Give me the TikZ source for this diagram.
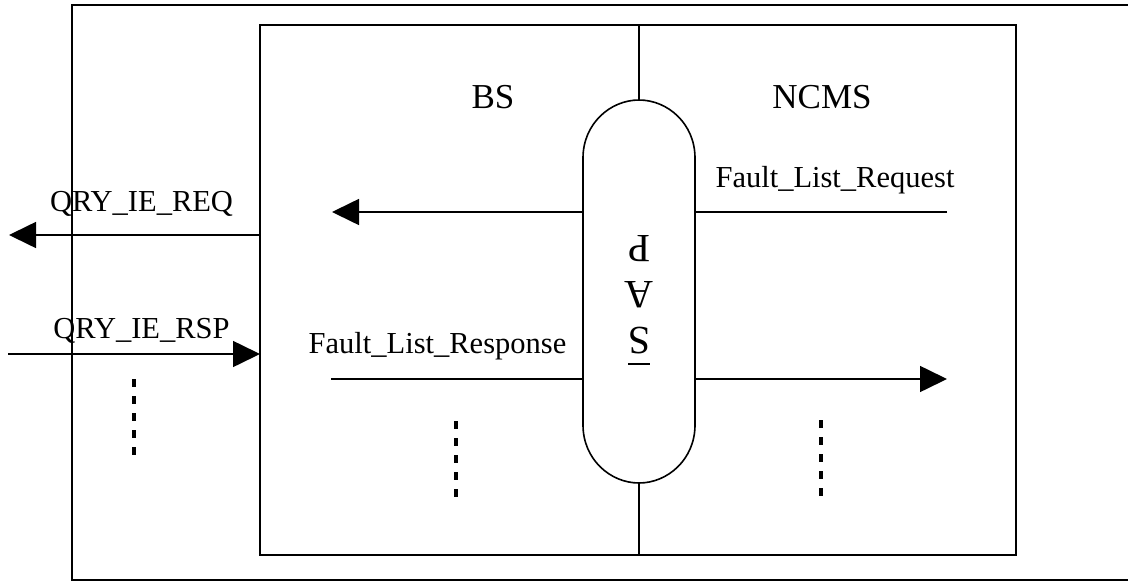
\documentclass[tikz,border=0pt]{standalone}
\usepackage{fontspec}
\setmainfont{Liberation Serif}
\usetikzlibrary{arrows.meta}

\tikzset{
  frame/.style={line width=2.2pt},
  wire/.style={line width=1.6pt},
  msg/.style={line width=1.6pt, -{Triangle[length=27pt,width=26pt]}},
  more/.style={line width=4pt, dash pattern=on 8pt off 9pt},
  lbl/.style={anchor=base, inner sep=0pt, font=\fontsize{30.5}{36}\selectfont},
  side/.style={anchor=base, inner sep=0pt, font=\fontsize{35}{40}\selectfont},
}

\begin{document}
\begin{tikzpicture}[x=1pt,y=-1pt]
\useasboundingbox (0,0) rectangle (1128,581);
\clip (0,0) rectangle (1128,581);

% outer system frame (runs off the right and bottom edges)
\draw[frame] (72,5) rectangle (1150,580.5);

% BS / NCMS box and the boundary between them
\draw[frame] (260,25) rectangle (1016,555);
\coordinate (topMid) at (639,25);
\coordinate (botMid) at (639,555);

% SAP capsule
\draw[wire] (583,158) .. controls (583,124) and (610,100) .. (639,100)
  .. controls (668,100) and (695,124) .. (695,158)
  -- (695,425) .. controls (695,459) and (668,483) .. (639,483)
  .. controls (610,483) and (583,459) .. (583,425) -- cycle;
\coordinate (sapTop) at (639,100);
\coordinate (sapBot) at (639,483);
\draw[wire] (topMid) -- (sapTop);
\draw[wire] (sapBot) -- (botMid);

\node[rotate=180, inner sep=0pt, align=center,
      font=\fontsize{40}{46}\selectfont] (sap) at (639,295) {S\\A\\P};
\draw[line width=1.6pt] (628,364) -- (650,364);

% side titles
\node[side] (bs) at (493,108) {BS};
\node[side] (ncms) at (822,108) {NCMS};

% attachment points on the box and the capsule
\coordinate (boxReq) at (260,235);
\coordinate (boxRsp) at (260,354);
\coordinate (extReq) at (9,235);
\coordinate (extRsp) at (8,354);
\coordinate (sapLReq) at (583,212);
\coordinate (sapLRsp) at (583,379);
\coordinate (sapRReq) at (695,212);
\coordinate (sapRRsp) at (695,379);
\coordinate (bsReq) at (332,212);
\coordinate (bsRsp) at (331,379);
\coordinate (ncmsReq) at (947,212);
\coordinate (ncmsRsp) at (947,379);

% external primitives
\draw[msg] (boxReq) -- (extReq);
\draw[msg] (extRsp) -- (boxRsp);
\node[lbl] (qreq) at (141.5,211) {QRY\_IE\_REQ};
\node[lbl] (qrsp) at (141.5,338) {QRY\_IE\_RSP};

% primitives across the SAP
\draw[wire] (ncmsReq) -- (sapRReq);
\draw[msg] (sapLReq) -- (bsReq);
\draw[wire] (bsRsp) -- (sapLRsp);
\draw[msg] (sapRRsp) -- (ncmsRsp);
\node[lbl] (flreq) at (835,187) {Fault\_List\_Request};
\node[lbl] (flrsp) at (437.5,353) {Fault\_List\_Response};

% continuation marks
\draw[more] (134,379) -- (134,463);
\draw[more] (456,421) -- (456,504);
\draw[more] (821,420) -- (821,503);
\end{tikzpicture}
\end{document}
